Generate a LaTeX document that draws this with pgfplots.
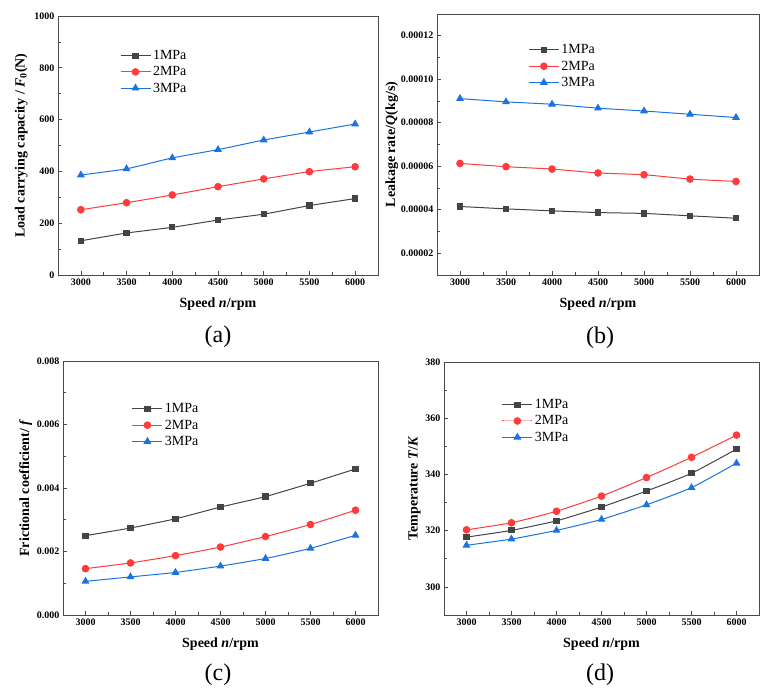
\documentclass[border=0pt]{standalone}
\usepackage{fontspec}
\setmainfont{Liberation Serif}
\usepackage{pgfplots}
\pgfplotsset{compat=1.18}
\definecolor{cgray}{HTML}{444444}
\definecolor{cred}{HTML}{FF3B3B}
\definecolor{cblue}{HTML}{1A73E0}
\definecolor{caxis}{HTML}{4A4A4A}
\pgfplotsset{
  myax/.style={
    scale only axis, anchor=south west,
    xmin=2750, xmax=6250,
    xtick={3000,3500,...,6000},
    minor x tick num=1, minor y tick num=1,
    axis line style={caxis, line width=0.8pt},
    every tick/.style={caxis, line width=0.6pt},
    tick align=inside, tick pos=left,
    major tick length=4pt, minor tick length=2.5pt,
    /pgf/number format/assume math mode=true,
    /pgf/number format/1000 sep={},
    scaled ticks=false,
    ticklabel style={font=\bfseries\fontsize{10}{12}\selectfont, text=black},
    xlabel={Speed \textit{n}/rpm},
    xlabel style={yshift=-6pt},
    label style={font=\bfseries\fontsize{14}{16}\selectfont},
    legend style={draw=none, fill=none, font=\fontsize{14}{16}\selectfont, row sep=1.5pt, inner sep=1pt},
    legend cell align=left,
    legend image code/.code={\draw[mark repeat=2,mark phase=2,#1] plot coordinates {(0pt,0pt) (15pt,0pt) (30pt,0pt)};},
  },
  s1/.style={cgray, line width=1pt, mark=square*, mark size=2.6pt, mark options={solid, fill=cgray}, smooth, tension=0.3},
  s2/.style={cred, line width=1pt, mark=*, mark size=3.3pt, mark options={solid, fill=cred}, smooth, tension=0.3},
  s3/.style={cblue, line width=1pt, mark=triangle*, mark size=3.6pt, mark options={solid, fill=cblue}, smooth, tension=0.3},
}
\begin{document}
\begin{tikzpicture}
\path[use as bounding box] (0pt,0pt) rectangle (770pt,698pt);
% (a)
\begin{axis}[myax, at={(58pt,423pt)}, width=320pt, height=259pt,
  ymin=0, ymax=1000, ytick={0,200,...,1000},
  ylabel={Load carrying capacity / \textit{F}\textsubscript{0}(N)},
  legend style={at={(0.19,0.88)}, anchor=north west}]
\addplot[s1] coordinates {(3000,132) (3500,162) (4000,184) (4500,212) (5000,235) (5500,268) (6000,295)};
\addplot[s2] coordinates {(3000,252) (3500,279) (4000,309) (4500,341) (5000,371) (5500,399) (6000,418)};
\addplot[s3] coordinates {(3000,386) (3500,410) (4000,452) (4500,484) (5000,521) (5500,552) (6000,583)};
\legend{1MPa,2MPa,3MPa}
\end{axis}
% (b)
\begin{axis}[myax, at={(437pt,423pt)}, width=322pt, height=261pt,
  ymin=0.00001, ymax=0.00013,
  ytick={0.00002,0.00004,0.00006,0.00008,0.00010,0.00012},
  yticklabel style={/pgf/number format/fixed, /pgf/number format/precision=5, /pgf/number format/fixed zerofill},
  ylabel={Leakage rate/\textit{Q}(kg/s)},
  ylabel style={xshift=0pt, yshift=-4pt},
  legend style={at={(0.28,0.895)}, anchor=north west}]
\addplot[s1] coordinates {(3000,4.15e-5) (3500,4.04e-5) (4000,3.95e-5) (4500,3.87e-5) (5000,3.83e-5) (5500,3.72e-5) (6000,3.61e-5)};
\addplot[s2] coordinates {(3000,6.13e-5) (3500,5.98e-5) (4000,5.87e-5) (4500,5.69e-5) (5000,5.61e-5) (5500,5.41e-5) (6000,5.30e-5)};
\addplot[s3] coordinates {(3000,9.11e-5) (3500,8.96e-5) (4000,8.85e-5) (4500,8.67e-5) (5000,8.54e-5) (5500,8.39e-5) (6000,8.24e-5)};
\legend{1MPa,2MPa,3MPa}
\end{axis}
% (c)
\begin{axis}[myax, at={(63pt,83pt)}, width=315pt, height=254pt,
  ymin=0, ymax=0.008, ytick={0,0.002,0.004,0.006,0.008},
  yticklabel style={/pgf/number format/fixed, /pgf/number format/precision=3, /pgf/number format/fixed zerofill},
  ylabel={Frictional coefficient/ \textit{f}},
  ylabel style={yshift=-2pt},
  legend style={at={(0.215,0.845)}, anchor=north west}]
\addplot[s1] coordinates {(3000,0.00250) (3500,0.00274) (4000,0.00303) (4500,0.00340) (5000,0.00373) (5500,0.00415) (6000,0.00460)};
\addplot[s2] coordinates {(3000,0.00146) (3500,0.00164) (4000,0.00187) (4500,0.00214) (5000,0.00247) (5500,0.00285) (6000,0.00330)};
\addplot[s3] coordinates {(3000,0.00106) (3500,0.00120) (4000,0.00134) (4500,0.00154) (5000,0.00178) (5500,0.00210) (6000,0.00251)};
\legend{1MPa,2MPa,3MPa}
\end{axis}
% (d)
\begin{axis}[myax, at={(444pt,83pt)}, width=315pt, height=253pt,
  ymin=290, ymax=380, ytick={300,320,...,380},
  ylabel={Temperature \textit{T}/\textit{K}},
  ylabel style={yshift=-2pt},
  legend style={at={(0.18,0.865)}, anchor=north west}]
\addplot[s1] coordinates {(3000,317.7) (3500,320.1) (4000,323.5) (4500,328.4) (5000,334.1) (5500,340.4) (6000,349.0)};
\addplot[s2] coordinates {(3000,320.3) (3500,322.8) (4000,326.9) (4500,332.3) (5000,338.9) (5500,346.1) (6000,354.0)};
\addplot[s3] coordinates {(3000,314.8) (3500,317.0) (4000,320.1) (4500,324.0) (5000,329.2) (5500,335.3) (6000,344.0)};
\legend{1MPa,2MPa,3MPa}
\end{axis}
\node[font=\fontsize{24}{26}\selectfont] at (218pt,361pt) {(a)};
\node[font=\fontsize{24}{26}\selectfont] at (600pt,360pt) {(b)};
\node[font=\fontsize{24}{26}\selectfont] at (218pt,23pt) {(c)};
\node[font=\fontsize{24}{26}\selectfont] at (600pt,23pt) {(d)};
\end{tikzpicture}
\end{document}
